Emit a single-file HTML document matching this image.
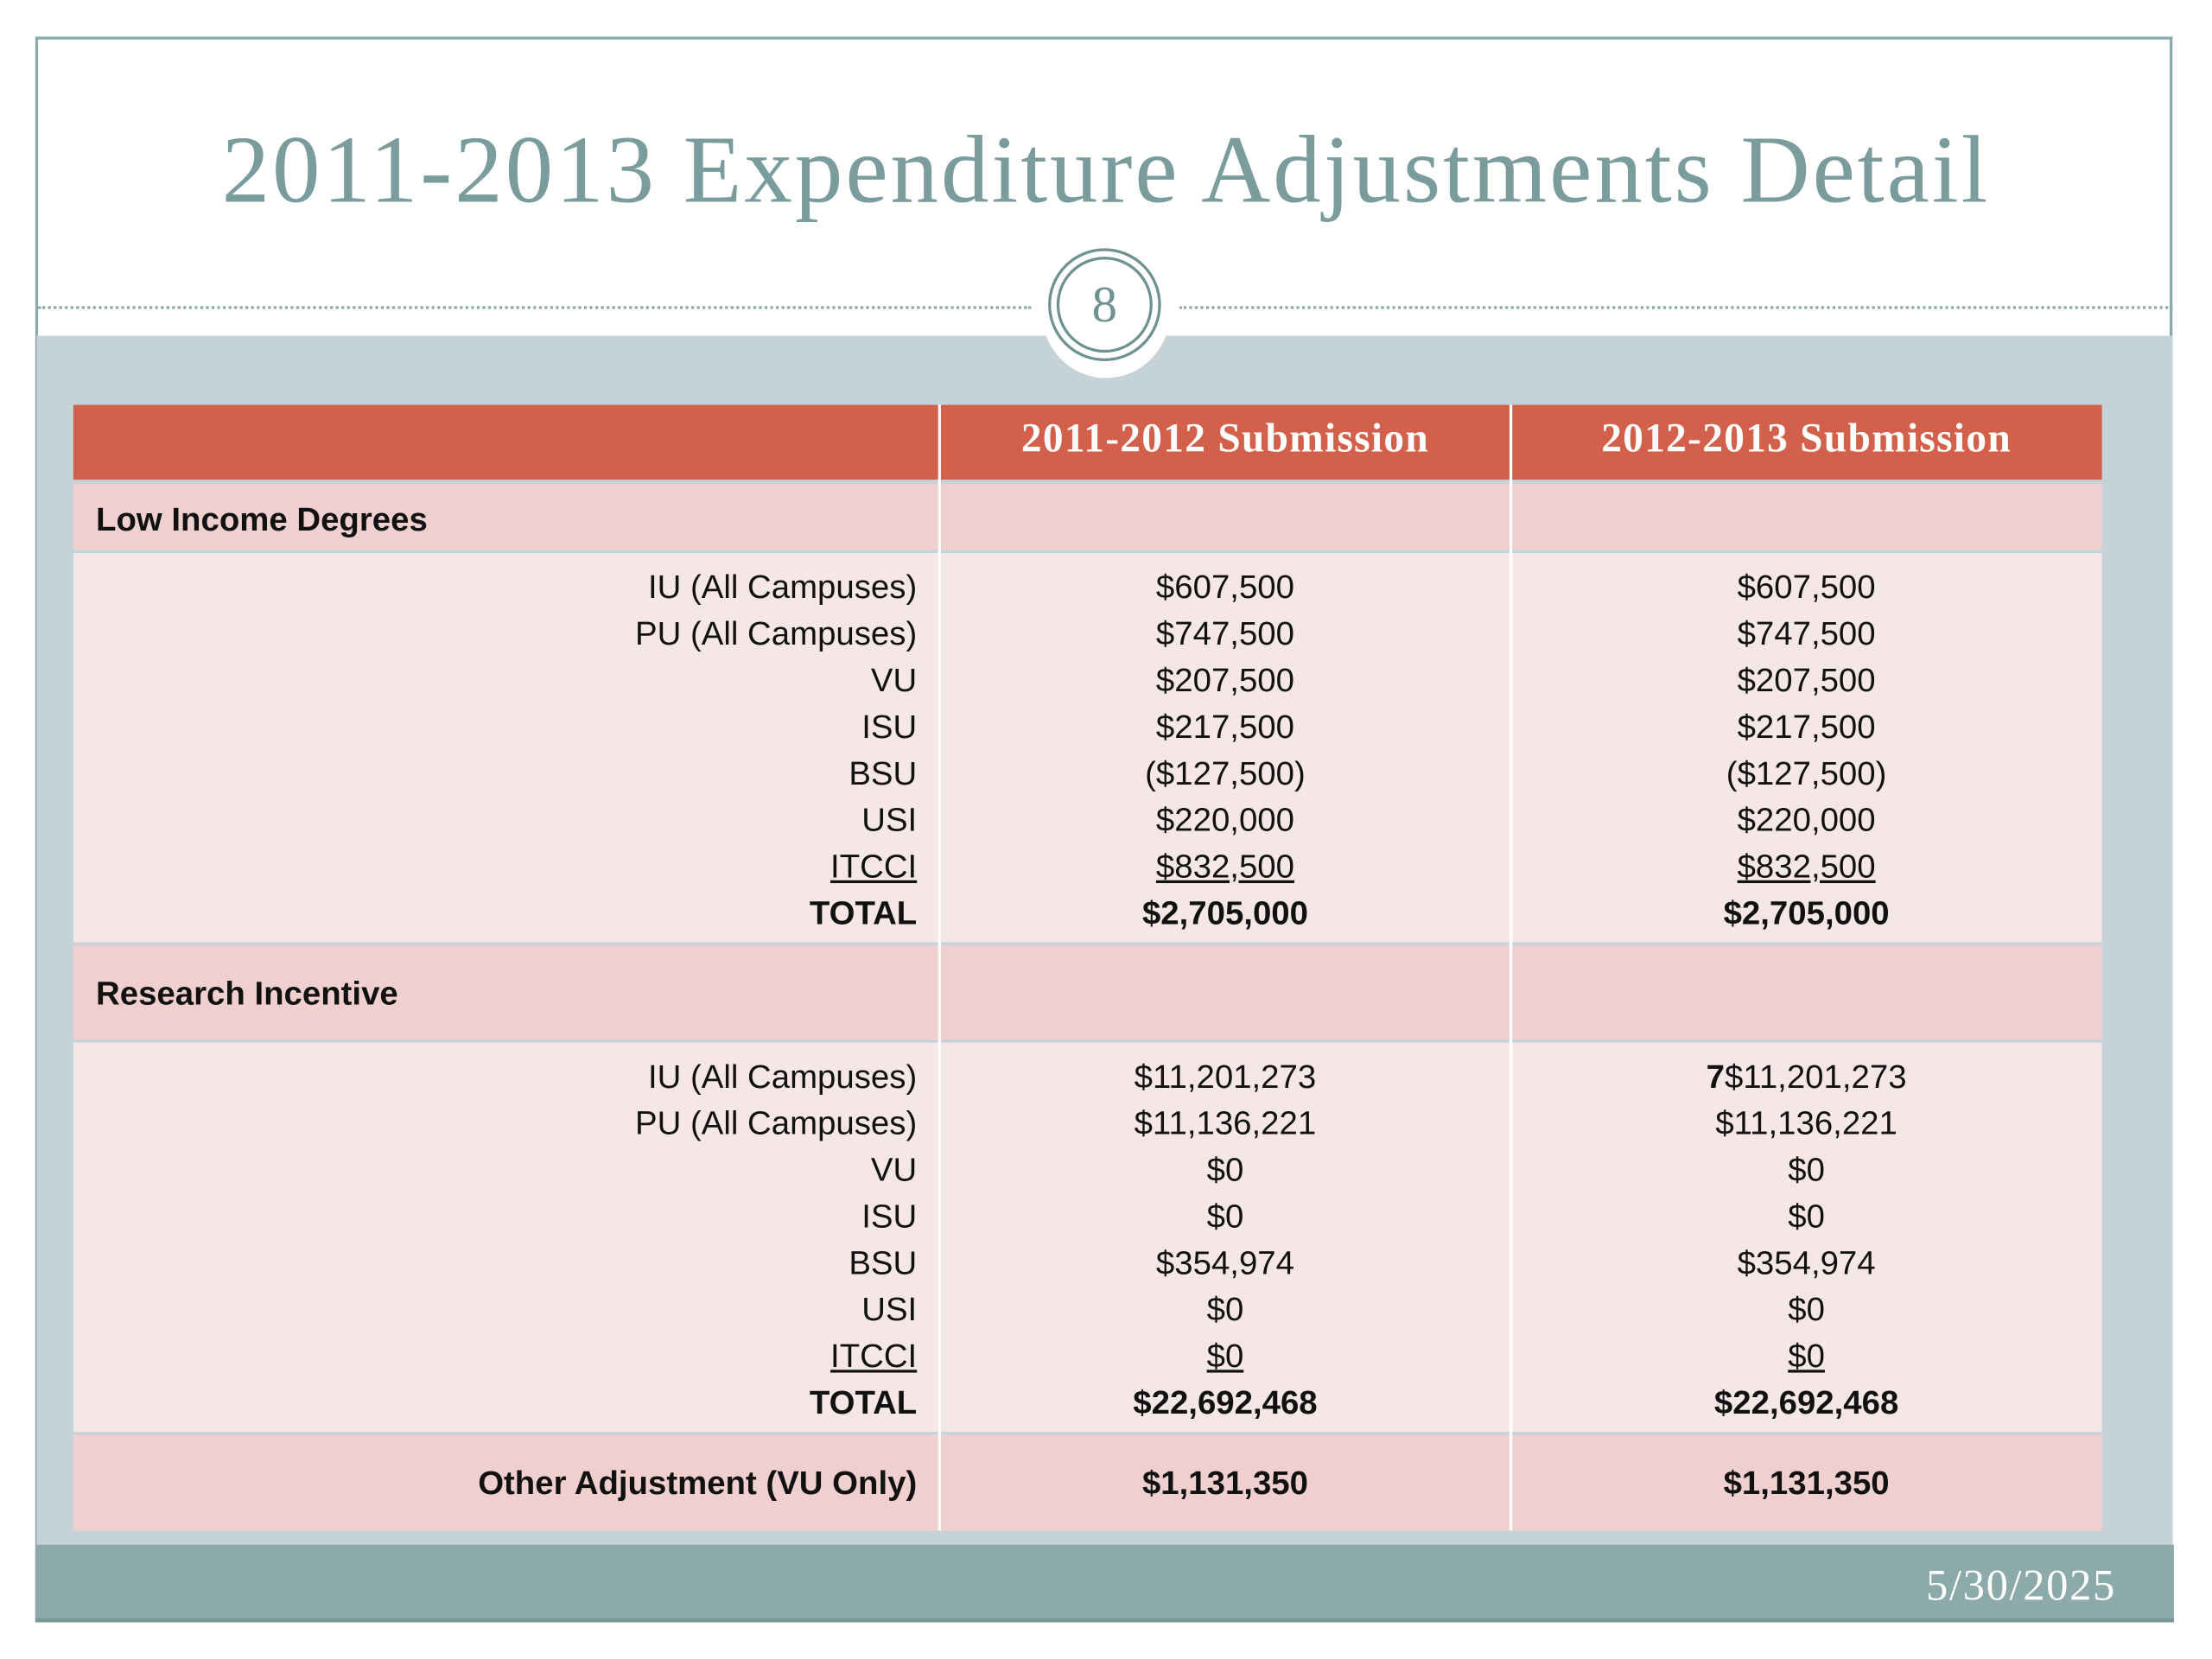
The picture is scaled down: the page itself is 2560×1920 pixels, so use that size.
<!DOCTYPE html>
<html><head><meta charset="utf-8"><style>
html,body{margin:0;padding:0;background:#fff;width:2560px;height:1920px;overflow:hidden}
#s{position:absolute;left:0;top:0;width:1568px;height:1176px;transform:scale(1.632653);transform-origin:0 0;font-family:"Liberation Sans",sans-serif}
.a{position:absolute}
.t{position:absolute;font-size:23.5px;color:#111;line-height:33px;white-space:nowrap}
.r{text-align:right;right:918px}
.c1{left:666px;width:405px;text-align:center}
.c2{left:1071px;width:419px;text-align:center}
.b{font-weight:bold}
.u{text-decoration:underline}
</style></head><body>
<div id="s">
<div class="a" style="left:25px;top:26px;width:1515px;height:1123px;border:2px solid #8aa9a9;border-bottom:none;box-sizing:border-box"></div>
<div class="a" style="left:26px;top:238px;width:1514px;height:858px;background:#c5d3d8"></div>
<div class="a" style="left:25px;top:1095px;width:1516px;height:55px;background:#8daaab;border-bottom:3px solid #7a9898;box-sizing:border-box"></div>
<div class="a" style="right:68px;top:1106px;font-family:'Liberation Serif',serif;font-size:31px;color:#fff;letter-spacing:1px">5/30/2025</div>
<div class="a" style="left:0;width:1568px;top:81px;text-align:center;font-family:'Liberation Serif',serif;font-size:68px;color:#7b9c9d;letter-spacing:1.8px">2011-2013 Expenditure Adjustments Detail</div>
<div class="a" style="left:27px;top:217px;width:704px;border-top:2px dotted #8aa9a9"></div>
<div class="a" style="left:836px;top:217px;width:704px;border-top:2px dotted #8aa9a9"></div>
<div class="a" style="left:738px;top:172px;width:92px;height:96px;border-radius:50%;background:#fff"></div>
<div class="a" style="left:743px;top:176px;width:80px;height:80px;border-radius:50%;border:2px solid #6f9191;box-sizing:border-box">
<div class="a" style="left:4px;top:4px;width:68px;height:68px;border-radius:50%;border:2px solid #6f9191;box-sizing:border-box;text-align:center;font-family:'Liberation Serif',serif;font-size:36px;line-height:64px;color:#6f9191">8</div></div>

<div class="a" style="left:52px;top:287px;width:1438px;height:53px;background:#d2604a"></div>
<div class="a" style="left:52px;top:343px;width:1438px;height:47px;background:#efd0cf"></div>
<div class="a" style="left:52px;top:392px;width:1438px;height:276px;background:#f6e7e7"></div>
<div class="a" style="left:52px;top:670px;width:1438px;height:67px;background:#efd0cf"></div>
<div class="a" style="left:52px;top:739px;width:1438px;height:276px;background:#f6e7e7"></div>
<div class="a" style="left:52px;top:1017px;width:1438px;height:68px;background:#efd0cf"></div>
<div class="a" style="left:665px;top:287px;width:2px;height:798px;background:#fff"></div>
<div class="a" style="left:1070px;top:287px;width:2px;height:798px;background:#fff"></div>

<div class="t c1" style="top:295px;font-family:'Liberation Serif',serif;font-weight:bold;font-size:29px;letter-spacing:0.8px;color:#fff">2011-2012 Submission</div>
<div class="t c2" style="top:295px;font-family:'Liberation Serif',serif;font-weight:bold;font-size:29px;letter-spacing:0.8px;color:#fff">2012-2013 Submission</div>

<div class="t b" style="left:68px;top:352px">Low Income Degrees</div>
<div class="t b" style="left:68px;top:688px">Research Incentive</div>

<div class="t r" style="top:400px">IU (All Campuses)<br>PU (All Campuses)<br>VU<br>ISU<br>BSU<br>USI<br><span class="u">ITCCI</span><br><b>TOTAL</b></div>
<div class="t c1" style="top:400px">$607,500<br>$747,500<br>$207,500<br>$217,500<br>($127,500)<br>$220,000<br><span class="u">$832,500</span><br><b>$2,705,000</b></div>
<div class="t c2" style="top:400px">$607,500<br>$747,500<br>$207,500<br>$217,500<br>($127,500)<br>$220,000<br><span class="u">$832,500</span><br><b>$2,705,000</b></div>

<div class="t r" style="top:747px">IU (All Campuses)<br>PU (All Campuses)<br>VU<br>ISU<br>BSU<br>USI<br><span class="u">ITCCI</span><br><b>TOTAL</b></div>
<div class="t c1" style="top:747px">$11,201,273<br>$11,136,221<br>$0<br>$0<br>$354,974<br>$0<br><span class="u">$0</span><br><b>$22,692,468</b></div>
<div class="t c2" style="top:747px"><b>7</b>$11,201,273<br>$11,136,221<br>$0<br>$0<br>$354,974<br>$0<br><span class="u">$0</span><br><b>$22,692,468</b></div>

<div class="t r b" style="top:1035px">Other Adjustment (VU Only)</div>
<div class="t c1 b" style="top:1035px">$1,131,350</div>
<div class="t c2 b" style="top:1035px">$1,131,350</div>
</div>
</body></html>
